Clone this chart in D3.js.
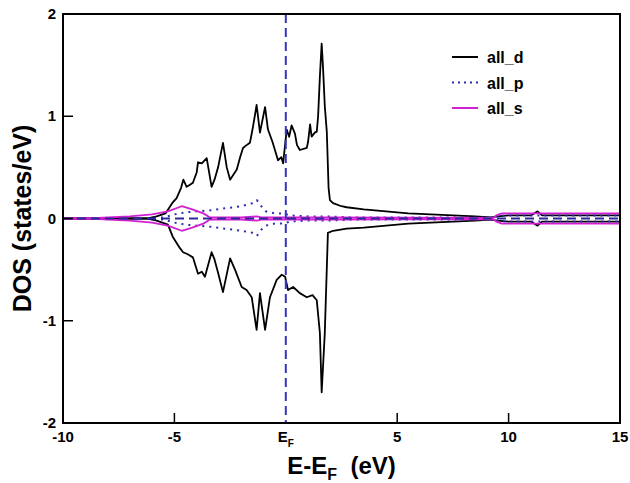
<!DOCTYPE html>
<html>
<head>
<meta charset="utf-8">
<script src="https://cdn.jsdelivr.net/npm/d3@7"></script>
<style>
  body { margin: 0; background: #fff; }
  svg text { font-family: "Liberation Sans", Arial, sans-serif; font-weight: bold; }
</style>
</head>
<body>
<svg width="630" height="483"></svg>
<script>
  // [E - E_F (eV), DOS (states/eV)]
  var dUp = [[-10,0],[-6.2,0],[-5.8,0.02],[-5.4,0.05],[-5.1,0.15],[-4.9,0.2],[-4.7,0.3],[-4.6,0.38],[-4.45,0.31],[-4.3,0.33],[-4.17,0.35],[-4.0,0.45],[-3.94,0.55],[-3.77,0.54],[-3.55,0.59],[-3.33,0.31],[-3.2,0.38],[-3.04,0.5],[-2.82,0.74],[-2.65,0.5],[-2.5,0.38],[-2.2,0.48],[-2.05,0.6],[-1.92,0.69],[-1.75,0.72],[-1.61,0.74],[-1.47,0.9],[-1.31,1.11],[-1.16,0.84],[-0.93,1.09],[-0.8,0.87],[-0.6,0.75],[-0.35,0.57],[-0.2,0.6],[-0.12,0.54],[0.04,0.87],[0.15,0.8],[0.26,0.91],[0.41,0.83],[0.5,0.72],[0.63,0.67],[0.94,0.69],[1.0,0.75],[1.09,0.92],[1.16,0.8],[1.3,0.84],[1.39,0.85],[1.45,1.0],[1.53,1.39],[1.61,1.71],[1.67,1.48],[1.75,1.1],[1.84,0.85],[1.92,0.3],[1.98,0.18],[2.12,0.15],[2.5,0.12],[2.73,0.11],[3.5,0.09],[4.5,0.07],[5.5,0.05],[6.5,0.04],[7.5,0.03],[8.5,0.02],[9.2,0.01],[9.5,0.02],[10,0.03],[11,0.03],[11.3,0.07],[11.5,0.03],[12.5,0.03],[13.5,0.03],[15,0.03]];
  var dDown = [[-10,0],[-6.2,0],[-5.8,-0.02],[-5.29,-0.06],[-5.07,-0.18],[-4.75,-0.29],[-4.61,-0.33],[-4.4,-0.35],[-4.17,-0.38],[-3.94,-0.54],[-3.77,-0.52],[-3.63,-0.57],[-3.33,-0.33],[-3.2,-0.4],[-3.04,-0.53],[-2.82,-0.72],[-2.5,-0.39],[-2.28,-0.5],[-1.98,-0.67],[-1.76,-0.7],[-1.53,-0.77],[-1.31,-1.09],[-1.16,-0.73],[-0.93,-1.09],[-0.71,-0.77],[-0.41,-0.6],[-0.18,-0.55],[-0.03,-0.57],[0.1,-0.7],[0.33,-0.67],[0.63,-0.73],[0.94,-0.77],[1.2,-0.75],[1.39,-0.8],[1.53,-1.12],[1.61,-1.7],[1.75,-1.12],[1.89,-0.14],[2.12,-0.12],[2.73,-0.1],[3.5,-0.09],[4.5,-0.07],[5.5,-0.05],[6.5,-0.04],[7.5,-0.03],[8.5,-0.02],[9.2,-0.01],[9.5,-0.02],[10,-0.03],[11,-0.03],[11.3,-0.07],[11.5,-0.03],[12.5,-0.03],[13.5,-0.03],[15,-0.03]];
  var pUp = [[-10,0],[-7,0],[-5.5,0.01],[-5.0,0.04],[-4.5,0.06],[-4,0.07],[-3.4,0.08],[-2.7,0.1],[-2,0.12],[-1.5,0.15],[-1.3,0.18],[-1.1,0.12],[-0.9,0.07],[-0.5,0.05],[-0.1,0.05],[0.2,0.03],[1,0.02],[2,0.02],[3,0.01],[9.3,0.01],[9.7,0.03],[15,0.03]];
  var pDown = [[-10,0],[-7,0],[-5.5,-0.01],[-5.0,-0.04],[-4.5,-0.06],[-4,-0.07],[-3.4,-0.08],[-2.7,-0.1],[-2,-0.12],[-1.5,-0.14],[-1.3,-0.17],[-1.1,-0.11],[-0.9,-0.07],[-0.5,-0.05],[-0.1,-0.05],[0.2,-0.03],[1,-0.02],[2,-0.02],[3,-0.01],[9.3,-0.01],[9.7,-0.03],[15,-0.03]];
  var sUp = [[-10,0],[-8.8,0],[-8,0.01],[-7,0.02],[-6,0.04],[-5.3,0.07],[-4.67,0.12],[-4.2,0.09],[-3.7,0.05],[-3.4,0.01],[-2,0.01],[-1.3,0.02],[-1.1,0.01],[0,0.01],[2,0.01],[9.3,0.005],[9.45,0.03],[9.7,0.05],[10.5,0.05],[15,0.05]];
  var sDown = [[-10,0],[-8.8,0],[-8,-0.01],[-7,-0.02],[-6,-0.04],[-5.3,-0.07],[-4.67,-0.12],[-4.2,-0.09],[-3.7,-0.05],[-3.4,-0.01],[-2,-0.01],[-1.3,-0.02],[-1.1,-0.01],[0,-0.01],[2,-0.01],[9.3,-0.005],[9.45,-0.03],[9.7,-0.05],[10.5,-0.05],[15,-0.05]];

  var xTicks = [-10, -5, 0, 5, 10, 15];
  var yTicks = [-2, -1, 0, 1, 2];
  var legendNames = ["all_d", "all_p", "all_s"];

  var svg = d3.select("svg"),
      mLeft = 63, mRight = 620, mTop = 14, mBottom = 423;

  var x = d3.scaleLinear().domain([-10, 15]).range([mLeft, mRight]);
  var y = d3.scaleLinear().domain([-2, 2]).range([mBottom, mTop]);

  var line = d3.line()
      .x(function(d) { return x(d[0]); })
      .y(function(d) { return y(d[1]); });

  var series = [
    { data: dUp, color: "#000", dash: null, w: 1.8 },
    { data: dDown, color: "#000", dash: null, w: 1.8 },
    { data: pUp, color: "#2a2ab8", dash: "2,5", w: 2 },
    { data: pDown, color: "#2a2ab8", dash: "2,5", w: 2 },
    { data: sUp, color: "#d21fd2", dash: null, w: 1.8 },
    { data: sDown, color: "#d21fd2", dash: null, w: 1.8 }
  ];

  var plot = svg.append("g");
  plot.append("defs").append("clipPath").attr("id", "clip")
    .append("rect").attr("x", mLeft).attr("y", mTop).attr("width", mRight - mLeft).attr("height", mBottom - mTop);

  plot.selectAll("path.dos")
    .data(series)
    .enter().append("path")
      .attr("class", "dos")
      .attr("clip-path", "url(#clip)")
      .attr("d", function(d) { return line(d.data); })
      .attr("fill", "none")
      .attr("stroke", function(d) { return d.color; })
      .attr("stroke-width", function(d) { return d.w; })
      .attr("stroke-dasharray", function(d) { return d.dash; })
      .attr("stroke-linejoin", "round");

  // zero line and Fermi level
  plot.append("line")
    .attr("x1", x(-10)).attr("x2", x(15)).attr("y1", y(0)).attr("y2", y(0))
    .attr("stroke", "#2a2a9a").attr("stroke-width", 2).attr("stroke-dasharray", "9,5");
  plot.append("line")
    .attr("x1", x(0)).attr("x2", x(0)).attr("y1", y(2)).attr("y2", y(-2))
    .attr("stroke", "#3535c0").attr("stroke-width", 2).attr("stroke-dasharray", "9,5");

  // frame
  svg.append("rect")
    .attr("x", mLeft).attr("y", mTop).attr("width", mRight - mLeft).attr("height", mBottom - mTop)
    .attr("fill", "none").attr("stroke", "#000").attr("stroke-width", 2);

  // ticks (inward)
  svg.selectAll("line.xt")
    .data(xTicks.filter(function(d) { return d > -10 && d < 15 && d !== 0; }))
    .enter().append("line")
      .attr("x1", function(d) { return x(d); }).attr("x2", function(d) { return x(d); })
      .attr("y1", mBottom).attr("y2", mBottom - 10)
      .attr("stroke", "#000").attr("stroke-width", 1.5);
  svg.selectAll("line.yt")
    .data(yTicks.filter(function(d) { return d > -2 && d < 2; }))
    .enter().append("line")
      .attr("x1", mLeft).attr("x2", mLeft + 10)
      .attr("y1", function(d) { return y(d); }).attr("y2", function(d) { return y(d); })
      .attr("stroke", "#000").attr("stroke-width", 1.5);

  // tick labels
  svg.selectAll("text.yl")
    .data(yTicks)
    .enter().append("text")
      .attr("x", mLeft - 7).attr("y", function(d) { return y(d) + 5; })
      .attr("text-anchor", "end").attr("font-size", 15)
      .text(function(d) { return d; });

  var xl = svg.selectAll("text.xl")
    .data(xTicks)
    .enter().append("text")
      .attr("x", function(d) { return x(d); }).attr("y", mBottom + 19)
      .attr("text-anchor", "middle").attr("font-size", 15);
  xl.filter(function(d) { return d !== 0; }).text(function(d) { return d; });
  var ef = xl.filter(function(d) { return d === 0; });
  ef.append("tspan").text("E");
  ef.append("tspan").attr("font-size", 10).attr("dy", 5).text("F");

  // axis titles
  svg.append("text")
    .attr("transform", "translate(" + 31 + "," + ((mTop + mBottom) / 2) + ") rotate(-90)")
    .attr("text-anchor", "middle").attr("font-size", 25)
    .text("DOS (states/eV)");
  var xt = svg.append("text")
    .attr("x", (mLeft + mRight) / 2).attr("y", 474)
    .attr("text-anchor", "middle").attr("font-size", 24);
  xt.append("tspan").text("E-E");
  xt.append("tspan").attr("font-size", 16).attr("dy", 6).text("F");
  xt.append("tspan").attr("dy", -6).text("\u00a0 (eV)");

  // legend
  var legendColors = ["#000", "#2a2ab8", "#d21fd2"];
  var legendDash = [null, "2,4", null];
  var lg = svg.selectAll("g.lg")
    .data(legendNames)
    .enter().append("g")
      .attr("transform", function(d, i) { return "translate(452," + (57 + i * 25.5) + ")"; });
  lg.append("line")
    .attr("x1", 0).attr("x2", 26).attr("y1", 0).attr("y2", 0)
    .attr("stroke", function(d, i) { return legendColors[i]; })
    .attr("stroke-width", 2)
    .attr("stroke-dasharray", function(d, i) { return legendDash[i]; });
  lg.append("text")
    .attr("x", 35).attr("y", 6).attr("font-size", 16)
    .text(function(d) { return d; });
</script>
</body>
</html>
